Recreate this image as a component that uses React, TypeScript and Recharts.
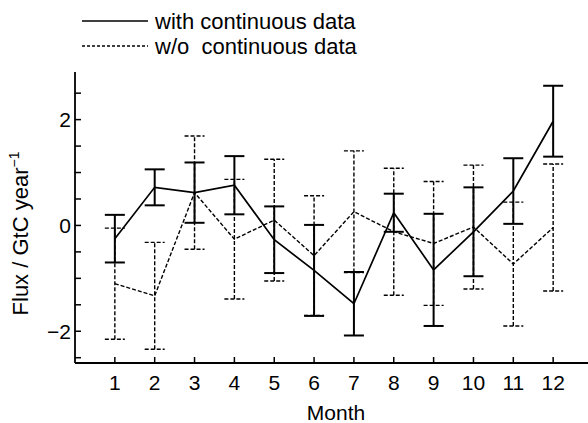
import React from 'react';
import { ComposedChart, Line, XAxis, YAxis, ErrorBar, Legend } from 'recharts';

// Monthly flux estimates (GtC / year) with 1-sigma uncertainties
const months = [1, 2, 3, 4, 5, 6, 7, 8, 9, 10, 11, 12];
const withContinuous = [-0.25, 0.72, 0.62, 0.76, -0.27, -0.85, -1.48, 0.24, -0.84, -0.12, 0.65, 1.97];
const withContinuousErr = [0.45, 0.34, 0.57, 0.55, 0.63, 0.86, 0.6, 0.36, 1.06, 0.84, 0.62, 0.67];
const withoutContinuous = [-1.1, -1.33, 0.62, -0.26, 0.1, -0.57, 0.26, -0.12, -0.34, -0.03, -0.73, -0.04];
const withoutContinuousErr = [1.05, 1.01, 1.07, 1.13, 1.15, 1.13, 1.15, 1.2, 1.17, 1.17, 1.17, 1.2];

const fluxTicks = [-2.5, -2, -1.5, -1, -0.5, 0, 0.5, 1, 1.5, 2, 2.5];
const fluxLabelled = [-2, 0, 2];
const fluxRightTicks = [-2, -1, 0, 1, 2];

const seriesNames = ['with continuous data', 'w/o  continuous data'];

const rows = months.map((m, i) => ({
  month: m,
  withC: withContinuous[i],
  withCErr: withContinuousErr[i],
  withoutC: withoutContinuous[i],
  withoutCErr: withoutContinuousErr[i],
}));

const FONT = '"Liberation Sans", Arial, Helvetica, sans-serif';
const DASH = '4 2';

const formatFlux = (v: number) => {
  if (!fluxLabelled.includes(v)) return '';
  return v < 0 ? `\u2212${-v}` : `${v}`;
};

const LegendBox = () => (
  <svg width={420} height={62} style={{ display: 'block' }}>
    {seriesNames.map((name, i) => {
      const y = 21 + i * 25;
      return (
        <g key={name}>
          <line
            x1={82}
            x2={148}
            y1={y}
            y2={y}
            stroke="#000"
            strokeWidth={1.5}
            strokeDasharray={i === 1 ? '3 2' : undefined}
          />
          <text
            x={155}
            y={y + 8}
            fontSize={22}
            fontFamily={FONT}
            fill="#000"
            style={{ whiteSpace: 'pre' }}
          >
            {name}
          </text>
        </g>
      );
    })}
  </svg>
);

const YTitle = (props: any) => {
  const vb = props.viewBox || { x: 0, y: 0, width: 0, height: 0 };
  const cx = vb.x - 7;
  const cy = vb.y + vb.height / 2 + 16;
  return (
    <text
      x={cx}
      y={cy}
      transform={`rotate(-90 ${cx} ${cy})`}
      textAnchor="middle"
      fontSize={22}
      fontFamily={FONT}
      fill="#000"
    >
      Flux / GtC year
      <tspan dy={-9} fontSize={14}>
        {'\u22121'}
      </tspan>
    </text>
  );
};

const XTitle = (props: any) => {
  const vb = props.viewBox || { x: 0, y: 0, width: 0, height: 0 };
  return (
    <text
      x={vb.x + vb.width / 2 + 2}
      y={vb.y + 57}
      textAnchor="middle"
      fontSize={21}
      fontFamily={FONT}
      fill="#000"
    >
      Month
    </text>
  );
};

export default function App() {
  const tickStyle = { fontSize: 21, fill: '#000', fontFamily: FONT };
  const axisLine = { stroke: '#000', strokeWidth: 1.8 };
  const tickLine = { stroke: '#000', strokeWidth: 1.5 };
  return (
    <div
      style={{
        position: 'absolute',
        left: 0,
        top: 0,
        width: 588,
        height: 423,
        overflow: 'hidden',
        background: '#fff',
      }}
    >
      <ComposedChart
        width={600}
        height={423}
        data={rows}
        margin={{ top: 72, right: 7, bottom: 30, left: 35 }}
      >
        <XAxis
          xAxisId="bottom"
          dataKey="month"
          type="number"
          domain={[0, 13]}
          ticks={months}
          orientation="bottom"
          height={30}
          axisLine={axisLine}
          tickLine={tickLine}
          tickSize={-6}
          tickMargin={18}
          tick={tickStyle}
          interval={0}
          label={<XTitle />}
        />
        <XAxis
          xAxisId="top"
          dataKey="month"
          type="number"
          domain={[0, 13]}
          ticks={months}
          orientation="top"
          height={0}
          axisLine={axisLine}
          tickLine={tickLine}
          tickSize={-7}
          tick={false}
          interval={0}
        />
        <YAxis
          yAxisId="left"
          type="number"
          domain={[-2.6, 2.9]}
          ticks={fluxTicks}
          orientation="left"
          width={40}
          axisLine={axisLine}
          tickLine={tickLine}
          tickSize={-6}
          tickMargin={10}
          tick={tickStyle}
          tickFormatter={formatFlux}
          interval={0}
          label={<YTitle />}
        />
        <YAxis
          yAxisId="right"
          type="number"
          domain={[-2.6, 2.9]}
          ticks={fluxRightTicks}
          orientation="right"
          width={0}
          axisLine={axisLine}
          tickLine={tickLine}
          tickSize={-7}
          tick={false}
          interval={0}
        />
        <Legend
          layout="vertical"
          align="center"
          verticalAlign="middle"
          wrapperStyle={{ position: 'absolute', left: 0, top: 0, width: 420 }}
          content={() => <LegendBox />}
        />
        <Line
          xAxisId="bottom"
          yAxisId="left"
          type="linear"
          dataKey="withoutC"
          name={seriesNames[1]}
          stroke="#000"
          strokeWidth={1.4}
          strokeDasharray={DASH}
          dot={false}
          activeDot={false}
          isAnimationActive={false}
        >
          <ErrorBar
            dataKey="withoutCErr"
            width={10}
            stroke="#000"
            strokeWidth={1.4}
            strokeDasharray={DASH}
            isAnimationActive={false}
          />
        </Line>
        <Line
          xAxisId="bottom"
          yAxisId="left"
          type="linear"
          dataKey="withC"
          name={seriesNames[0]}
          stroke="#000"
          strokeWidth={1.7}
          dot={false}
          activeDot={false}
          isAnimationActive={false}
        >
          <ErrorBar
            dataKey="withCErr"
            width={10}
            stroke="#000"
            strokeWidth={2}
            isAnimationActive={false}
          />
        </Line>
      </ComposedChart>
    </div>
  );
}
